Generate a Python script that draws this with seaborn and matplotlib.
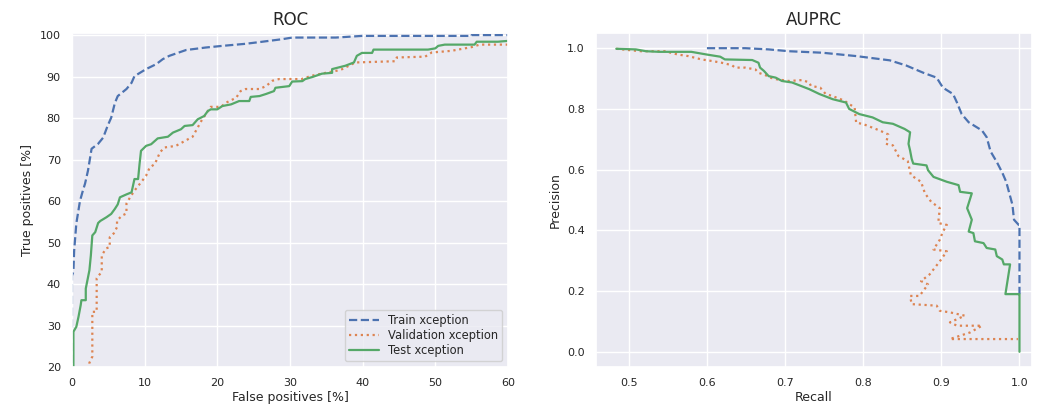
import numpy as np
import pandas as pd
import matplotlib
matplotlib.use("Agg")
import matplotlib.pyplot as plt
import seaborn as sns

# ---- ROC data (false positive rate %, true positive rate %) ----
train_fpr = [0, 0, 0.2, 0.3, 0.6, 1.1, 1.5, 1.8, 2.2, 2.7, 3.6, 4.3, 4.9, 5.4, 5.9, 6.3, 7.5, 8.2, 8.6,
             10.2, 11.6, 12.5, 13.4, 15.7, 18.4, 20.7, 23.9, 26.2, 28.9, 30.3, 36.3, 39.9, 55, 55, 100]
train_tpr = [0, 42, 43, 48, 54.6, 60, 62.5, 64.2, 67.3, 72.6, 73.8, 75.3, 78.1, 80.1, 83.6, 85.3, 87, 88.5, 90.1,
             91.8, 93, 94.2, 95, 96.4, 97, 97.4, 97.9, 98.4, 99, 99.4, 99.4, 99.8, 99.8, 100, 100]

val_fpr = [0, 2.2, 2.4, 2.8, 2.8, 3.4, 3.4, 3.7, 4.1, 4.1, 4.7, 5.2, 5.2, 5.75, 6.2, 6.2, 6.9, 7.5, 7.5, 8.0,
           8.6, 9.5, 10.2, 10.7, 11.4, 11.8, 12.1, 12.7, 14.3, 16.6, 17.3, 17.8, 18.7, 19.1, 20.5, 21.2, 22.6,
           23.2, 23.9, 25.8, 26.7, 27.6, 28.5, 31.6, 33, 34.9, 36.7, 37.2, 39, 44.5, 44.7, 48.6, 49.5, 52.2,
           55, 56.1, 60, 100]
val_tpr = [0, 15, 21, 22.5, 33.3, 33.3, 41.4, 42.1, 42.9, 46.9, 48.6, 48.9, 51.3, 52.2, 53.7, 55.3, 56.5, 57,
           59.4, 60.9, 62.5, 64.5, 66.1, 68.1, 68.9, 70.5, 71.7, 72.9, 73.3, 75.5, 77.7, 79.3, 81.7, 82.7, 82.7,
           83.7, 84.9, 86.5, 87, 87, 87.7, 89, 89.4, 89.4, 90.2, 90.9, 91.5, 91.8, 93.4, 93.7, 94.6, 94.8, 95.8,
           96.2, 97.1, 97.7, 97.7, 100]

test_fpr = [0, 0.2, 0.2, 0.6, 0.9, 1.2, 1.3, 1.9, 1.9, 2.4, 2.6, 2.8, 3.2, 3.6, 3.9, 4.75, 5.4, 5.9, 6.3, 6.6,
            7.5, 8.2, 8.6, 9.1, 9.3, 9.5, 10.2, 10.9, 11.8, 13.2, 13.9, 15, 15.5, 16.6, 17.3, 18.2, 18.7, 19.1,
            20, 20.7, 21.9, 23, 24.4, 24.6, 25.8, 26.7, 27.8, 28, 29.9, 30.3, 31.7, 32.1, 33.1, 34.4, 35.8,
            35.8, 37.6, 38.8, 39.2, 39.9, 41.3, 41.5, 49, 50, 50.4, 51.3, 55.4, 55.7, 58.6, 60, 100]
test_tpr = [0, 10, 28.5, 29.7, 32.1, 34.9, 36.1, 36.1, 38.9, 43.3, 46.9, 51.7, 52.5, 54.7, 55.2, 56.1, 56.9,
            58.1, 59.2, 60.9, 61.6, 62.1, 65.3, 65.3, 68.9, 72.1, 73.3, 73.7, 75.1, 75.5, 76.5, 77.3, 78.1,
            78.3, 79.7, 80.5, 81.7, 82.1, 82.1, 82.9, 83.3, 84.1, 84.1, 85.1, 85.3, 85.8, 86.5, 87.3, 87.7,
            88.8, 88.9, 89.4, 89.9, 90.7, 90.9, 91.8, 92.6, 93.4, 95, 95.7, 95.7, 96.5, 96.5, 96.8, 97.4,
            97.7, 97.7, 98.4, 98.4, 98.6, 100]

# ---- Precision-recall data ----
train_rec = [0.6, 0.649, 0.679, 0.705, 0.748, 0.791, 0.834, 0.855, 0.877, 0.894, 0.902, 0.915, 0.92, 0.926,
             0.935, 0.952, 0.958, 0.963, 0.971, 0.978, 0.983, 0.987, 0.991, 0.993, 0.999, 1.0, 1.0]
train_prec = [1.0, 1.0, 0.996, 0.99, 0.985, 0.974, 0.96, 0.943, 0.919, 0.903, 0.87, 0.849, 0.821, 0.783,
              0.756, 0.729, 0.707, 0.66, 0.625, 0.59, 0.56, 0.522, 0.484, 0.435, 0.418, 0.418, 0.19]

val_rec = [0.484, 0.503, 0.516, 0.546, 0.563, 0.576, 0.593, 0.606, 0.619, 0.632, 0.636, 0.649, 0.662, 0.666,
           0.675, 0.681, 0.688, 0.705, 0.722, 0.731, 0.733, 0.745, 0.752, 0.76, 0.769, 0.776, 0.782, 0.789,
           0.791, 0.799, 0.81, 0.821, 0.832, 0.829, 0.838, 0.845, 0.857, 0.861, 0.874, 0.879, 0.887, 0.898,
           0.896, 0.907, 0.902, 0.898, 0.89, 0.907, 0.898, 0.885, 0.874, 0.883, 0.872, 0.86, 0.862, 0.894,
           0.898, 0.911, 0.93, 0.911, 0.92, 0.952, 0.937, 0.911, 0.998]
val_prec = [0.998, 0.993, 0.99, 0.99, 0.979, 0.974, 0.963, 0.958, 0.952, 0.944, 0.936, 0.936, 0.93, 0.919,
            0.911, 0.903, 0.898, 0.892, 0.895, 0.887, 0.876, 0.87, 0.849, 0.843, 0.834, 0.827, 0.816, 0.805,
            0.754, 0.751, 0.74, 0.729, 0.716, 0.685, 0.68, 0.645, 0.628, 0.582, 0.56, 0.522, 0.494, 0.473,
            0.424, 0.418, 0.396, 0.369, 0.337, 0.331, 0.298, 0.255, 0.233, 0.222, 0.184, 0.184, 0.157, 0.152,
            0.135, 0.13, 0.119, 0.097, 0.086, 0.086, 0.064, 0.042, 0.042]

test_rec = [0.484, 0.509, 0.522, 0.539, 0.58, 0.6, 0.617, 0.623, 0.658, 0.666, 0.668, 0.673, 0.679, 0.688,
            0.696, 0.709, 0.718, 0.731, 0.744, 0.761, 0.778, 0.782, 0.795, 0.812, 0.825, 0.838, 0.853, 0.86,
            0.858, 0.86, 0.862, 0.864, 0.881, 0.883, 0.89, 0.907, 0.922, 0.924, 0.939, 0.933, 0.939, 0.935,
            0.941, 0.943, 0.954, 0.958, 0.969, 0.971, 0.978, 0.98, 0.988, 0.982, 0.999, 1.0, 1.0]
test_prec = [0.998, 0.996, 0.99, 0.988, 0.988, 0.979, 0.972, 0.963, 0.961, 0.952, 0.936, 0.925, 0.908, 0.903,
             0.892, 0.887, 0.878, 0.865, 0.849, 0.832, 0.821, 0.8, 0.783, 0.772, 0.756, 0.751, 0.734, 0.723,
             0.685, 0.663, 0.636, 0.62, 0.614, 0.598, 0.576, 0.56, 0.549, 0.527, 0.522, 0.473, 0.435, 0.396,
             0.391, 0.364, 0.358, 0.342, 0.337, 0.315, 0.304, 0.288, 0.288, 0.19, 0.19, 0.19, 0.0]

labels = ["Train xception", "Validation xception", "Test xception"]
roc_x = [train_fpr, val_fpr, test_fpr]
roc_y = [train_tpr, val_tpr, test_tpr]
pr_x = [train_rec, val_rec, test_rec]
pr_y = [train_prec, val_prec, test_prec]

sns.set_theme(style="darkgrid")
plt.rcParams['font.family'] = ['DejaVu Sans']
colors = sns.color_palette("deep")
styles = ["--", ":", "-"]

fig, (ax1, ax2) = plt.subplots(1, 2, figsize=(10.46, 4.09), dpi=100)
fig.subplots_adjust(left=0.0688, right=0.9866, bottom=0.1027, top=0.9193, wspace=0.2018)

for i, lab in enumerate(labels):
    df = pd.DataFrame({"x": roc_x[i], "y": roc_y[i]})
    sns.lineplot(data=df, x="x", y="y", sort=False, estimator=None, ax=ax1, color=colors[i],
                 linestyle=styles[i], linewidth=1.6, label=lab)
    df2 = pd.DataFrame({"x": pr_x[i], "y": pr_y[i]})
    sns.lineplot(data=df2, x="x", y="y", sort=False, estimator=None, ax=ax2, color=colors[i],
                 linestyle=styles[i], linewidth=1.6, legend=False)

ax1.set_xlim(0, 60)
ax1.set_ylim(20, 100.5)
ax1.set_xticks([0, 10, 20, 30, 40, 50, 60])
ax1.set_yticks([20, 30, 40, 50, 60, 70, 80, 90, 100])
ax1.set_xlabel("False positives [%]", fontsize=9, labelpad=2)
ax1.set_ylabel("True positives [%]", fontsize=9, labelpad=4)
ax1.set_title("ROC", fontsize=12)
ax1.tick_params(labelsize=8, pad=2)
ax1.legend(loc="lower right", fontsize=8.3, handlelength=2.6, labelspacing=0.2, borderpad=0.35)

ax2.set_xlim(0.458, 1.016)
ax2.set_ylim(-0.05, 1.05)
ax2.set_xticks([0.5, 0.6, 0.7, 0.8, 0.9, 1.0])
ax2.set_yticks([0.0, 0.2, 0.4, 0.6, 0.8, 1.0])
ax2.set_xticklabels(["0.5", "0.6", "0.7", "0.8", "0.9", "1.0"])
ax2.set_yticklabels(["0.0", "0.2", "0.4", "0.6", "0.8", "1.0"])
ax2.set_xlabel("Recall", fontsize=9, labelpad=2)
ax2.set_ylabel("Precision", fontsize=9, labelpad=4)
ax2.set_title("AUPRC", fontsize=12)
ax2.tick_params(labelsize=8, pad=2)

fig.savefig("out.png", dpi=100)
